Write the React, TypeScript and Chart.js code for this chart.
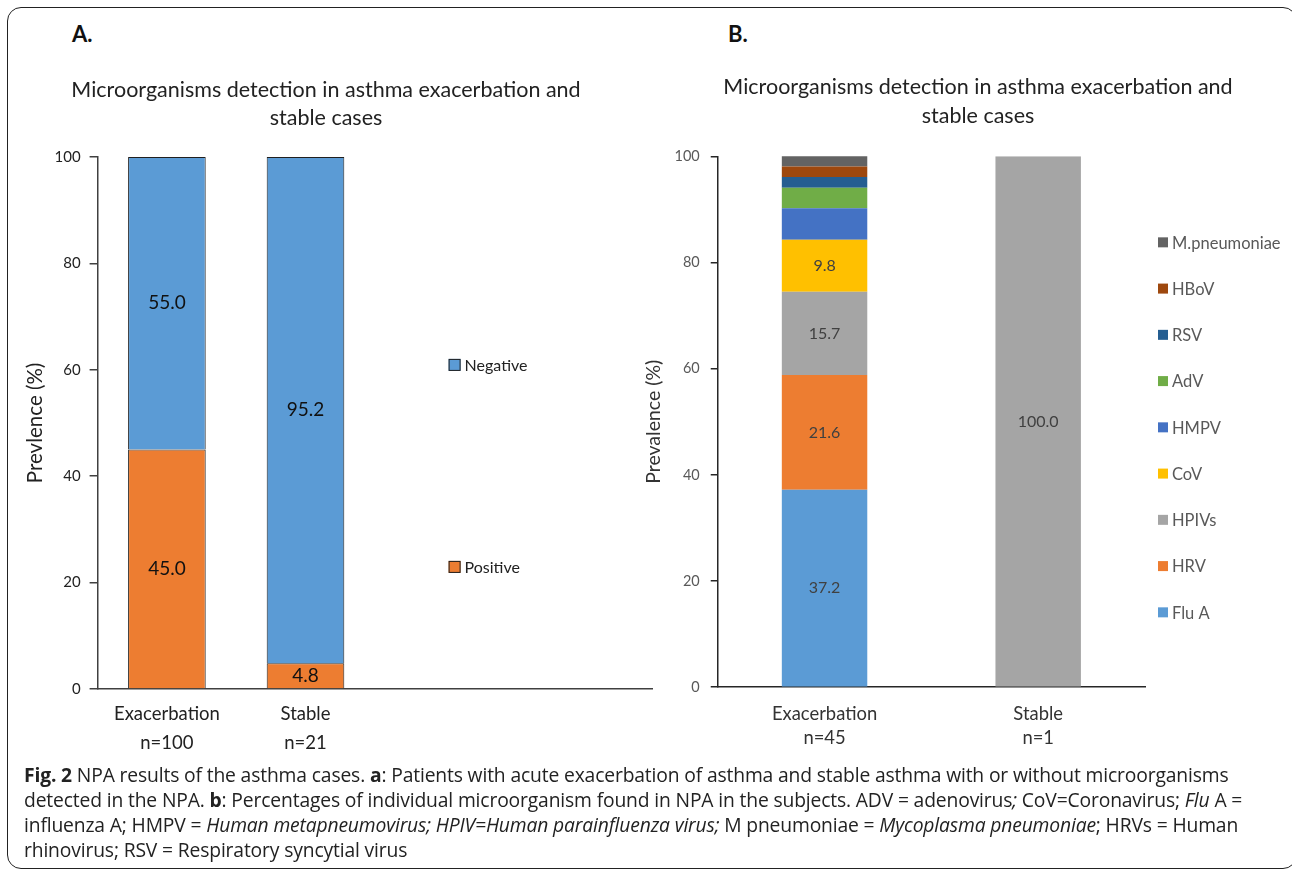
import React, { useEffect, useRef } from 'react';
import { Chart, registerables, layouts } from 'chart.js';

Chart.register(...registerables);

const FONT = 'Lato, "Open Sans", sans-serif';

// ---------- Panel A data ----------
const categoriesA: (string | string[])[] = [['Exacerbation', 'n=100'], ['Stable', 'n=21'], '', ''];
const positiveA = [45.0, 4.8];
const negativeA = [55.0, 95.2];
const yTicksA = [0, 20, 40, 60, 80, 100];

// ---------- Panel B data ----------
const categoriesB: (string | string[])[] = [['Exacerbation', 'n=45'], ['Stable', 'n=1']];
const fluA = [37.2, null];
const hrv = [21.6, null];
const hpivs = [15.7, 100.0];
const cov = [9.8, null];
const hmpv = [5.9, null];
const adv = [3.9, null];
const rsv = [2.0, null];
const hbov = [2.0, null];
const mPneumoniae = [2.0, null];
const yTicksB = [0, 20, 40, 60, 80, 100];

const TITLE = ['Microorganisms detection in asthma exacerbation and', 'stable cases'];

const barValues = {
  id: 'barValues',
  afterDatasetsDraw(chart: any, _a: any, opts: any) {
    const { ctx } = chart;
    ctx.save();
    ctx.font = opts.fontStr;
    ctx.fillStyle = opts.color;
    ctx.textAlign = 'center';
    ctx.textBaseline = 'middle';
    chart.data.datasets.forEach((d: any, i: number) => {
      const meta = chart.getDatasetMeta(i);
      meta.data.forEach((el: any, j: number) => {
        const v = d.data[j];
        if (v == null || v < opts.min) return;
        const { x, y, base } = el.getProps(['x', 'y', 'base'], true);
        ctx.fillText(Number(v).toFixed(1), x, (y + base) / 2 + (opts.dy || 0));
      });
    });
    ctx.restore();
  },
};

// Legend drawn at Excel-like positions; optionally reserves a layout box on the right.
const placedLegend = {
  id: 'placedLegend',
  start(chart: any) {
    const box: any = {
      position: 'right',
      weight: 1100,
      fullSize: false,
      options: {},
      left: 0, top: 0, right: 0, bottom: 0, width: 0, height: 0,
      isHorizontal: () => false,
      update(maxWidth: number, maxHeight: number) {
        const r = chart.options?.plugins?.placedLegend?.reserve || 0;
        box.width = Math.min(r, maxWidth);
        box.height = maxHeight;
      },
      draw() {},
    };
    chart.$placedBox = box;
    layouts.addBox(chart, box);
  },
  stop(chart: any) {
    if (chart.$placedBox) layouts.removeBox(chart, chart.$placedBox);
    delete chart.$placedBox;
  },
  afterDraw(chart: any, _a: any, opts: any) {
    const { ctx, chartArea } = chart;
    const ds = chart.data.datasets;
    ctx.save();
    ctx.font = opts.fontStr;
    ctx.textBaseline = 'middle';
    ctx.textAlign = 'left';
    const order = ds.map((_d: any, i: number) => i).reverse();
    order.forEach((di: number, k: number) => {
      const d = ds[di];
      const y = chartArea.top + opts.top + k * opts.spacing;
      const x = (opts.anchor === 'right' ? chartArea.right : chartArea.left) + opts.dx;
      const b = opts.box;
      ctx.fillStyle = d.backgroundColor;
      ctx.fillRect(x, y - b / 2, b, b);
      if (opts.boxBorder) {
        ctx.strokeStyle = opts.boxBorder;
        ctx.lineWidth = 1;
        ctx.strokeRect(x + 0.5, y - b / 2 + 0.5, b - 1, b - 1);
      }
      ctx.fillStyle = opts.color;
      ctx.fillText(d.label, x + b + opts.gap, y + 1);
    });
    ctx.restore();
  },
};

function ChartA() {
  const ref = useRef<HTMLCanvasElement>(null);
  useEffect(() => {
    const chart = new Chart(ref.current as HTMLCanvasElement, {
      type: 'bar',
      data: {
        labels: categoriesA as any,
        datasets: [
          { label: 'Positive', data: positiveA, backgroundColor: '#ED7D31', borderColor: '#1f1f1f', borderWidth: 1, barPercentage: 0.56, categoryPercentage: 1 },
          { label: 'Negative', data: negativeA, backgroundColor: '#5B9BD5', borderColor: '#1f1f1f', borderWidth: 1, barPercentage: 0.56, categoryPercentage: 1 },
        ],
      },
      options: {
        responsive: false,
        animation: false,
        layout: { padding: { left: 4, right: 4, top: 0, bottom: 0 } },
        plugins: {
          legend: { display: false },
          tooltip: { enabled: false },
          title: {
            display: true,
            text: TITLE,
            color: '#222',
            font: { family: FONT, size: 21.5, weight: 'normal', lineHeight: 1.3 },
            padding: { top: 10, bottom: 25 },
          },
          barValues: { fontStr: `19px ${FONT}`, color: '#111', min: 0 },
          placedLegend: { reserve: 0, fontStr: `16px ${FONT}`, color: '#222', anchor: 'left', dx: 351, top: 208, spacing: 202, box: 12, gap: 4, boxBorder: '#1f1f1f' },
        } as any,
        scales: {
          x: {
            stacked: true,
            grid: { display: false, drawTicks: false },
            border: { display: true, color: '#404040', width: 1.5 },
            ticks: { color: '#222', font: { family: FONT, size: 18.5, lineHeight: 1.57 }, padding: 11, maxRotation: 0, autoSkip: false },
          },
          y: {
            stacked: true,
            min: 0,
            max: 100,
            afterBuildTicks: (axis: any) => { axis.ticks = yTicksA.map((v) => ({ value: v })); },
            ticks: { color: '#222', font: { family: FONT, size: 15 }, padding: 9 },
            grid: { drawOnChartArea: false, drawTicks: true, tickLength: 8, color: '#404040', lineWidth: 1.5 },
            border: { display: true, color: '#404040', width: 1.5 },
            title: { display: true, text: 'Prevlence (%)', color: '#222', font: { family: FONT, size: 20.5, lineHeight: 1 }, padding: { top: 25, bottom: 0 } },
          },
        },
      },
      plugins: [barValues, placedLegend],
    });
    return () => chart.destroy();
  }, []);
  return <canvas ref={ref} width={660} height={703} style={{ position: 'absolute', left: -4, top: 66 }} />;
}

function ChartB() {
  const ref = useRef<HTMLCanvasElement>(null);
  useEffect(() => {
    const common = { barPercentage: 0.4, categoryPercentage: 1, borderWidth: 0 };
    const chart = new Chart(ref.current as HTMLCanvasElement, {
      type: 'bar',
      data: {
        labels: categoriesB as any,
        datasets: [
          { label: 'Flu A', data: fluA, backgroundColor: '#5B9BD5', ...common },
          { label: 'HRV', data: hrv, backgroundColor: '#ED7D31', ...common },
          { label: 'HPIVs', data: hpivs, backgroundColor: '#A5A5A5', ...common },
          { label: 'CoV', data: cov, backgroundColor: '#FFC000', ...common },
          { label: 'HMPV', data: hmpv, backgroundColor: '#4472C4', ...common },
          { label: 'AdV', data: adv, backgroundColor: '#70AD47', ...common },
          { label: 'RSV', data: rsv, backgroundColor: '#255E91', ...common },
          { label: 'HBoV', data: hbov, backgroundColor: '#9E480E', ...common },
          { label: 'M.pneumoniae', data: mPneumoniae, backgroundColor: '#636363', ...common },
        ],
      },
      options: {
        responsive: false,
        animation: false,
        layout: { padding: { left: 0, right: 0, top: 0, bottom: 0 } },
        plugins: {
          legend: { display: false },
          tooltip: { enabled: false },
          title: {
            display: true,
            text: TITLE,
            color: '#222',
            font: { family: FONT, size: 21.5, weight: 'normal', lineHeight: 1.38 },
            padding: { top: 10, bottom: 25 },
          },
          barValues: { fontStr: `16px ${FONT}`, color: '#404040', min: 9 },
          placedLegend: { reserve: 178, fontStr: `16.5px ${FONT}`, color: '#595959', anchor: 'right', dx: 13, top: 86, spacing: 46.25, box: 10, gap: 4 },
        } as any,
        scales: {
          x: {
            stacked: true,
            grid: { display: false, drawTicks: false },
            border: { display: true, color: '#262626', width: 1.5 },
            ticks: { color: '#333', font: { family: FONT, size: 18.4, lineHeight: 1.3 }, padding: 15, maxRotation: 0, autoSkip: false },
          },
          y: {
            stacked: true,
            min: 0,
            max: 100,
            afterBuildTicks: (axis: any) => { axis.ticks = yTicksB.map((v) => ({ value: v })); },
            ticks: { color: '#595959', font: { family: FONT, size: 14.5 }, padding: 11 },
            grid: { drawOnChartArea: false, drawTicks: true, tickLength: 7, color: '#262626', lineWidth: 1.5 },
            border: { display: true, color: '#262626', width: 1.5 },
            title: { display: true, text: 'Prevalence (%)', color: '#333', font: { family: FONT, size: 19.5, lineHeight: 1 }, padding: { top: 0, bottom: 0 } },
          },
        },
      },
      plugins: [barValues, placedLegend],
    });
    return () => chart.destroy();
  }, []);
  return <canvas ref={ref} width={668} height={703} style={{ position: 'absolute', left: 644, top: 62 }} />;
}

const capFont = '"Open Sans", sans-serif';

export default function App() {
  return (
    <div style={{ position: 'absolute', left: 0, top: 0, width: 1292, height: 873, overflow: 'hidden', background: '#fff' }}>
      <div style={{ position: 'absolute', left: 7, top: 7, width: 1290, height: 862, border: '1.5px solid #222', borderRadius: 14, boxSizing: 'border-box' }} />
      <ChartA />
      <ChartB />
      <div style={{ position: 'absolute', left: 72, top: 20, font: `bold 22px ${FONT}`, color: '#111' }}>A.</div>
      <div style={{ position: 'absolute', left: 728, top: 20, font: `bold 22px ${FONT}`, color: '#111' }}>B.</div>
      <div style={{ position: 'absolute', left: 24, top: 762, font: `19.3px/25px ${capFont}`, color: '#222', whiteSpace: 'nowrap', letterSpacing: '-0.15px' }}>
        <b>Fig. 2</b> NPA results of the asthma cases. <b>a</b>: Patients with acute exacerbation of asthma and stable asthma with or without microorganisms<br />
        detected in the NPA. <b>b</b>: Percentages of individual microorganism found in NPA in the subjects. ADV = adenovirus<i>;</i> CoV=Coronavirus; <i>Flu</i> A =<br />
        influenza A; HMPV = <i>Human metapneumovirus; HPIV=Human parainfluenza virus;</i> M pneumoniae = <i>Mycoplasma pneumoniae</i>; HRVs = Human<br />
        rhinovirus; RSV = Respiratory syncytial virus
      </div>
    </div>
  );
}
